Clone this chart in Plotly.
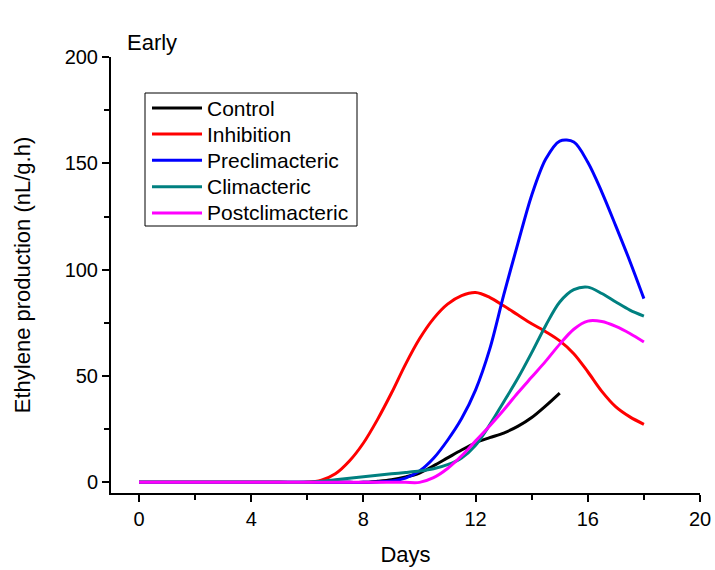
import plotly.graph_objects as go

days = [0, 1, 2, 3, 4, 5, 6, 6.5, 7, 7.5, 8, 8.5, 9, 9.5, 10, 10.5, 11, 11.5,
        12, 12.5, 13, 13.5, 14, 14.5, 15, 15.5, 16, 16.5, 17, 17.5, 18]

control = [0, 0, 0, 0, 0, 0, 0, 0, 0, 0, 0, 0.5, 1.2, 2.5, 4.4, 7.8, 11.5, 15.2,
           18.6, 21, 23.2, 26.3, 30.5, 36, 42]
inhibition = [0, 0, 0, 0, 0, 0, 0, 1, 4, 10, 18.5, 29.5, 42, 55.5, 67.5, 77, 83.8, 87.8,
              89.3, 87, 83, 78.8, 74.6, 70.8, 66.5, 60.5, 52, 42.8, 35.5, 30.8, 27.3]
preclimacteric = [0, 0, 0, 0, 0, 0, 0, 0, 0, 0, 0, 0.2, 0.6, 2, 5.3, 11.3, 19.8, 30,
                  43.5, 62.5, 88, 112, 135, 152, 160.5, 160, 150.5, 136.5, 120.5, 104, 86.4]
climacteric = [0, 0, 0, 0, 0, 0, 0, 0.5, 1.2, 1.9, 2.6, 3.3, 4, 4.6, 5.3, 6.4, 8.3, 11.5,
               17.5, 27, 37.8, 48.8, 61, 73.8, 84.8, 90.6, 91.8, 88.8, 84.8, 81, 78.2]
postclimacteric = [0, 0, 0, 0, 0, 0, 0, 0, 0, 0, 0, 0, 0, 0, 0, 2.2, 6.5, 12.5,
                   19.5, 26.5, 34, 42, 49.5, 57, 65, 72, 75.8, 75.6, 73.3, 70, 66]

names = ["Control", "Inhibition", "Preclimacteric", "Climacteric", "Postclimacteric"]
series = [control, inhibition, preclimacteric, climacteric, postclimacteric]
colors = ["#000000", "#FF0000", "#0000FF", "#008080", "#FF00FF"]

x_ticks = [0, 4, 8, 12, 16, 20]
y_ticks = [0, 50, 100, 150, 200]

FONT = "Arial, Liberation Sans, sans-serif"

W, H = 715, 570
ML, MR, MT, MB = 111, 15, 57, 77
PW, PH = W - ML - MR, H - MT - MB


def px_x(p):
    return (p - ML) / PW


def px_y(p):
    return (H - MB - p) / PH


fig = go.Figure()
for name, vals, col in zip(names, series, colors):
    fig.add_trace(go.Scatter(
        x=days[:len(vals)], y=vals, name=name, mode="lines",
        line=dict(color=col, width=3, shape="spline", smoothing=0.9),
        showlegend=False,
    ))

axis_common = dict(
    showline=True, linecolor="black", linewidth=2,
    ticks="outside", ticklen=7, tickwidth=2, tickcolor="black",
    showgrid=False, zeroline=False, mirror=False, automargin=False,
    tickfont=dict(family=FONT, size=20, color="black"),
)

fig.update_xaxes(
    range=[-1.0, 20], tickvals=x_ticks, ticktext=[str(v) for v in x_ticks],
    minor=dict(dtick=2, tick0=0, ticks="outside", ticklen=5, tickwidth=2, tickcolor="black"),
    title=dict(text="Days", font=dict(family=FONT, size=22, color="black"), standoff=18),
    **axis_common,
)
fig.update_yaxes(
    range=[-5, 200], tickvals=y_ticks, ticktext=[str(v) for v in y_ticks],
    minor=dict(dtick=25, tick0=0, ticks="outside", ticklen=5, tickwidth=2, tickcolor="black"),
    title=dict(text="Ethylene production (nL/g.h)", font=dict(family=FONT, size=22, color="black"), standoff=28),
    **axis_common,
)

fig.add_annotation(
    text="Early", xref="paper", yref="paper", x=px_x(125), y=px_y(57), xanchor="left", yanchor="bottom",
    showarrow=False, font=dict(family=FONT, size=22, color="black"),
)

# legend box drawn by hand to match the reference layout
fig.add_shape(type="rect", xref="paper", yref="paper",
              x0=px_x(145), x1=px_x(357), y0=px_y(226), y1=px_y(93),
              line=dict(color="black", width=1), fillcolor="white", layer="above")
row_y = [108, 134, 160.3, 186.7, 213]
for name, col, ry in zip(names, colors, row_y):
    fig.add_shape(type="line", xref="paper", yref="paper",
                  x0=px_x(152), x1=px_x(202), y0=px_y(ry), y1=px_y(ry),
                  line=dict(color=col, width=3), layer="above")
    fig.add_annotation(text=name, xref="paper", yref="paper", x=px_x(205), y=px_y(ry),
                       xanchor="left", yanchor="middle", showarrow=False,
                       font=dict(family=FONT, size=21, color="black"))

fig.update_layout(
    width=W, height=H,
    margin=dict(l=ML, r=MR, t=MT, b=MB),
    paper_bgcolor="white", plot_bgcolor="white",
    font=dict(family=FONT, color="black"),
    showlegend=False,
)

fig.write_html("out.html")
